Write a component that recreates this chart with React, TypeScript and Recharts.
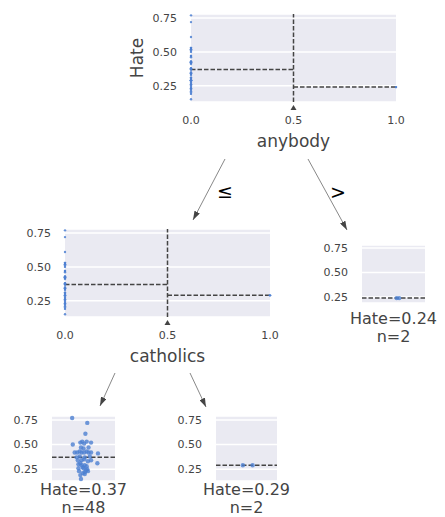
import React from 'react';
import { ScatterChart, Scatter, XAxis, YAxis, CartesianGrid, ReferenceLine, ReferenceDot } from 'recharts';

const FONT = '"DejaVu Sans", sans-serif';
const BG = '#eaeaf2';
const DOT = '#4c7fd1';
const INK = '#444';
const DASH = '4.5 2';

// Hate of the 48 samples with anybody <= 0.5 and catholics <= 0.5
const leftLeafHate = [
  0.77, 0.72, 0.61, 0.5, 0.52, 0.53, 0.51, 0.53, 0.52, 0.47, 0.46, 0.47,
  0.42, 0.42, 0.43, 0.42, 0.42, 0.43, 0.42, 0.42, 0.41, 0.37, 0.38, 0.37,
  0.38, 0.34, 0.34, 0.35, 0.33, 0.34, 0.31, 0.29, 0.29, 0.26, 0.26, 0.25,
  0.23, 0.22, 0.23, 0.19, 0.2, 0.15, 0.3, 0.27, 0.24, 0.31, 0.28, 0.21,
];
// strip plot jitter of the same samples inside their leaf
const leftLeafJitter = [
  0.32, 0.56, 0.53, 0.33, 0.45, 0.48, 0.51, 0.55, 0.62, 0.46, 0.5, 0.58,
  0.36, 0.4, 0.44, 0.47, 0.51, 0.55, 0.58, 0.62, 0.73, 0.39, 0.44, 0.52,
  0.6, 0.41, 0.47, 0.51, 0.57, 0.62, 0.72, 0.47, 0.52, 0.42, 0.5, 0.56,
  0.43, 0.52, 0.57, 0.45, 0.52, 0.46, 0.42, 0.49, 0.54, 0.45, 0.55, 0.49,
];
const midLeafHate = [0.29, 0.29];
const midLeafJitter = [0.44, 0.6];
const rightLeafHate = [0.24, 0.24];
const rightLeafJitter = [0.55, 0.59];

const splitTicks = [0, 0.5, 1];
const hateTicks = [0.25, 0.5, 0.75];
const threshold = 0.5;
const anybodyMeans = [0.37, 0.24];
const catholicsMeans = [0.37, 0.29];
const leafMeans = [0.37, 0.29, 0.24];

// split feature value of every sample (0 or 1)
const anybodyPoints = [
  ...leftLeafHate.map((y) => ({ x: 0, y })),
  ...midLeafHate.map((y) => ({ x: 0, y })),
  ...rightLeafHate.map((y) => ({ x: 1, y })),
];
const catholicsPoints = [
  ...leftLeafHate.map((y) => ({ x: 0, y })),
  ...midLeafHate.map((y) => ({ x: 1, y })),
];
const leafPoints = (hate: number[], jitter: number[]) => hate.map((y, i) => ({ x: jitter[i], y }));

const tickStyle = { fill: INK, fontSize: 11, fontFamily: FONT };

interface SplitProps {
  left: number;
  top: number;
  width: number;
  yAxisWidth: number;
  feature: string;
  points: { x: number; y: number }[];
  means: number[];
  domain: [number, number];
  showYLabel?: boolean;
}

function SplitPlot({ left, top, width, yAxisWidth, feature, points, means, domain, showYLabel }: SplitProps) {
  return (
    <div style={{ position: 'absolute', left, top }}>
      <ScatterChart width={width} height={154} margin={{ top: 14, right: 15, bottom: 12, left: 0 }}>
        <CartesianGrid vertical={false} fill={BG} fillOpacity={1} stroke="#fff" strokeWidth={1.5} />
        <XAxis
          type="number"
          dataKey="x"
          domain={[0, 1]}
          ticks={splitTicks}
          interval={0}
          tickFormatter={(v: number) => v.toFixed(1)}
          axisLine={false}
          tickLine={false}
          tickSize={0}
          tickMargin={14}
          height={40}
          tick={tickStyle}
          label={(p: any) => (
            <text
              x={p.viewBox.x + p.viewBox.width / 2}
              y={p.viewBox.y + 45}
              textAnchor="middle"
              fontSize={17}
              fontFamily={FONT}
              fill={INK}
            >
              {feature}
            </text>
          )}
        />
        <YAxis
          type="number"
          dataKey="y"
          domain={domain}
          ticks={hateTicks}
          interval={0}
          tickFormatter={(v: number) => v.toFixed(2)}
          axisLine={false}
          tickLine={false}
          tickSize={0}
          tickMargin={14}
          width={yAxisWidth}
          tick={tickStyle}
          label={
            showYLabel
              ? (p: any) => (
                  <text
                    transform={`translate(${p.viewBox.x + 33}, ${p.viewBox.y + p.viewBox.height / 2}) rotate(-90)`}
                    textAnchor="middle"
                    fontSize={17}
                    fontFamily={FONT}
                    fill={INK}
                  >
                    Hate
                  </text>
                )
              : undefined
          }
        />
        <ReferenceLine x={threshold} stroke={INK} strokeWidth={1.5} strokeDasharray={DASH} />
        <ReferenceLine
          segment={[{ x: 0, y: means[0] }, { x: threshold, y: means[0] }]}
          stroke={INK}
          strokeWidth={1.5}
          strokeDasharray={DASH}
        />
        <ReferenceLine
          segment={[{ x: threshold, y: means[1] }, { x: 1, y: means[1] }]}
          stroke={INK}
          strokeWidth={1.5}
          strokeDasharray={DASH}
        />
        <Scatter
          data={points}
          isAnimationActive={false}
          shape={(p: any) => <circle cx={p.cx} cy={p.cy} r={1.2} fill={DOT} fillOpacity={0.85} />}
        />
        <ReferenceDot
          x={threshold}
          y={domain[0]}
          ifOverflow="visible"
          shape={(p: any) => (
            <polygon points={`${p.cx - 3},${p.cy + 8} ${p.cx + 3},${p.cy + 8} ${p.cx},${p.cy + 3}`} fill={INK} />
          )}
        />
      </ScatterChart>
    </div>
  );
}

interface LeafProps {
  left: number;
  top: number;
  yAxisWidth: number;
  plotWidth: number;
  plotHeight: number;
  domain: [number, number];
  points: { x: number; y: number }[];
  mean: number;
  textOffset: number;
}

function LeafPlot({ left, top, yAxisWidth, plotWidth, plotHeight, domain, points, mean, textOffset }: LeafProps) {
  return (
    <div style={{ position: 'absolute', left, top }}>
      <ScatterChart
        width={yAxisWidth + plotWidth + 30}
        height={14 + plotHeight + 50}
        margin={{ top: 14, right: 30, bottom: 0, left: 0 }}
      >
        <CartesianGrid vertical={false} fill={BG} fillOpacity={1} stroke="#fff" strokeWidth={1.5} />
        <XAxis
          type="number"
          dataKey="x"
          domain={[0, 1]}
          axisLine={false}
          tickLine={false}
          tick={false}
          height={50}
          label={(p: any) => {
            const cx = p.viewBox.x + p.viewBox.width / 2;
            return (
              <g fontSize={16} fontFamily={FONT} fill={INK}>
                <text x={cx} y={p.viewBox.y + textOffset} textAnchor="middle">{`Hate=${mean.toFixed(2)}`}</text>
                <text x={cx} y={p.viewBox.y + textOffset + 18.5} textAnchor="middle">{`n=${points.length}`}</text>
              </g>
            );
          }}
        />
        <YAxis
          type="number"
          dataKey="y"
          domain={domain}
          ticks={hateTicks}
          interval={0}
          tickFormatter={(v: number) => v.toFixed(2)}
          axisLine={false}
          tickLine={false}
          tickSize={0}
          tickMargin={14}
          width={yAxisWidth}
          tick={tickStyle}
        />
        <ReferenceLine y={mean} stroke={INK} strokeWidth={1.5} strokeDasharray={DASH} />
        <Scatter
          data={points}
          isAnimationActive={false}
          shape={(p: any) => <circle cx={p.cx} cy={p.cy} r={2.2} fill={DOT} fillOpacity={0.8} />}
        />
      </ScatterChart>
    </div>
  );
}

export default function App() {
  return (
    <div style={{ position: 'absolute', left: 0, top: 0, width: 445, height: 517, fontFamily: FONT, background: '#fff', overflow: 'hidden' }}>
      <SplitPlot
        left={110}
        top={0}
        width={301}
        yAxisWidth={81}
        feature="anybody"
        points={anybodyPoints}
        means={anybodyMeans}
        domain={[0.13, 0.78]}
        showYLabel
      />
      <SplitPlot
        left={0}
        top={215}
        width={285}
        yAxisWidth={65}
        feature="catholics"
        points={catholicsPoints}
        means={catholicsMeans}
        domain={[0.13, 0.78]}
      />
      <LeafPlot
        left={300}
        top={231}
        yAxisWidth={62}
        plotWidth={63}
        plotHeight={58}
        domain={[0.19, 0.78]}
        points={leafPoints(rightLeafHate, rightLeafJitter)}
        mean={leafMeans[2]}
        textOffset={20.5}
      />
      <LeafPlot
        left={0}
        top={402}
        yAxisWidth={52}
        plotWidth={63}
        plotHeight={65}
        domain={[0.13, 0.79]}
        points={leafPoints(leftLeafHate, leftLeafJitter)}
        mean={leafMeans[0]}
        textOffset={13.5}
      />
      <LeafPlot
        left={160}
        top={402}
        yAxisWidth={56}
        plotWidth={61}
        plotHeight={65}
        domain={[0.13, 0.79]}
        points={leafPoints(midLeafHate, midLeafJitter)}
        mean={leafMeans[1]}
        textOffset={13.5}
      />
      <svg width={445} height={517} style={{ position: 'absolute', left: 0, top: 0, pointerEvents: 'none' }}>
        <defs>
          <marker id="head" markerWidth="9" markerHeight="6" refX="9" refY="3" orient="auto" markerUnits="userSpaceOnUse">
            <path d="M0,0 L9,3 L0,6 z" fill={INK} />
          </marker>
        </defs>
        <line x1={225} y1={159} x2={193} y2={220} stroke="#888" strokeWidth={1} markerEnd="url(#head)" />
        <line x1={308} y1={159} x2={347} y2={230} stroke="#888" strokeWidth={1} markerEnd="url(#head)" />
        <line x1={115} y1={373} x2={100} y2={406} stroke="#888" strokeWidth={1} markerEnd="url(#head)" />
        <line x1={190} y1={373} x2={206} y2={407} stroke="#888" strokeWidth={1} markerEnd="url(#head)" />
        <text x={225} y={198} textAnchor="middle" fontSize={19} fontFamily={FONT} fill="#000">≤</text>
        <text x={338} y={199} textAnchor="middle" fontSize={19} fontFamily={FONT} fill="#000">&gt;</text>
      </svg>
    </div>
  );
}
